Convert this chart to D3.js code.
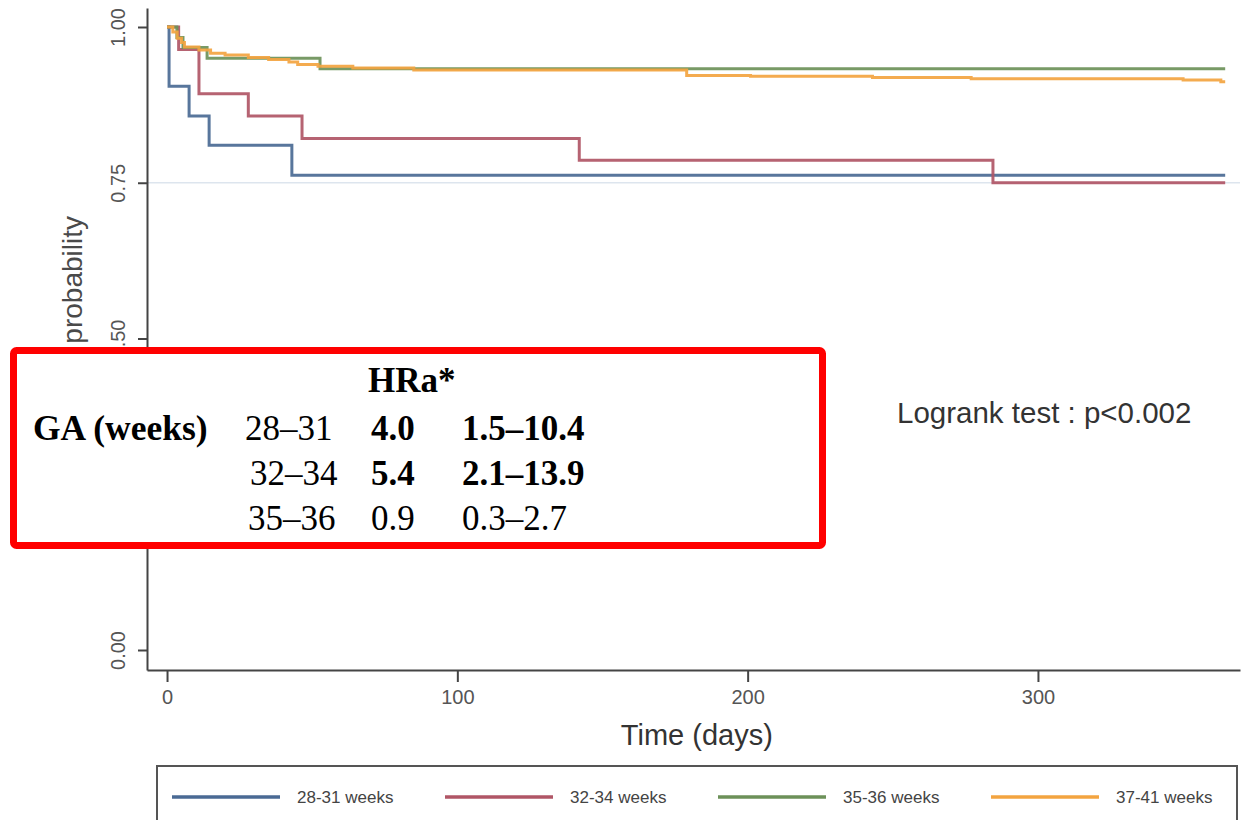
<!DOCTYPE html>
<html>
<head>
<meta charset="utf-8">
<script src="https://cdn.jsdelivr.net/npm/d3@7"></script>
<style>
  body { margin: 0; background: #fff; }
  svg { display: block; }
</style>
</head>
<body>
<svg id="chart" width="1243" height="820"></svg>
<script>
// Kaplan-Meier curves by gestational age group
const groups = ["28-31 weeks", "32-34 weeks", "35-36 weeks", "37-41 weeks"];
const colors = ["#4a6a94", "#b05666", "#6c9159", "#f3a440"];
const followUpEnd = 364.5;

const time_2831 = [0, 0.7, 7.6, 14.5, 43];
const surv_2831 = [1, 0.905, 0.857, 0.810, 0.762];

const time_3234 = [0, 4, 11, 28, 46.5, 142, 284.5];
const surv_3234 = [1, 0.964, 0.893, 0.857, 0.821, 0.786, 0.750];

const time_3536 = [0, 3.4, 5.5, 13.8, 52.7];
const surv_3536 = [1, 0.983, 0.967, 0.950, 0.933];

const time_3741 = [0, 2, 3.5, 5, 6, 11, 15, 20, 28, 35, 42, 45, 52, 64, 85, 179, 201, 243, 277, 350, 363];
const surv_3741 = [1, 0.992, 0.982, 0.975, 0.968, 0.963, 0.958, 0.955, 0.951, 0.948, 0.944, 0.940, 0.937, 0.934, 0.931, 0.922, 0.921, 0.919, 0.917, 0.915, 0.912];

const xTicks = [0, 100, 200, 300];
const yTicks = [0, 0.25, 0.5, 0.75, 1];
const yGrid = [0.75];

// adjusted hazard ratio table
const gaBands = ["28–31", "32–34", "35–36"];
const hrValues = ["4.0", "5.4", "0.9"];
const ciValues = ["1.5–10.4", "2.1–13.9", "0.3–2.7"];
const significant = [true, true, false];

const series = [
  [time_2831, surv_2831],
  [time_3234, surv_3234],
  [time_3536, surv_3536],
  [time_3741, surv_3741],
].map(([t, s], i) => {
  const pts = t.map((d, j) => [d, s[j]]);
  pts.push([followUpEnd, s[s.length - 1]]);
  return { name: groups[i], color: colors[i], pts };
});

const svg = d3.select("#chart");

const x = d3.scaleLinear().domain([-6.9, 369.6]).range([147, 1240]);
const y = d3.scaleLinear().domain([-0.0321, 1.0305]).range([670, 8]);

// grid
svg.append("g")
    .selectAll("line")
    .data(yGrid)
    .enter()
    .append("line")
    .attr("x1", x.range()[0])
    .attr("x2", x.range()[1])
    .attr("y1", d => y(d))
    .attr("y2", d => y(d))
    .attr("stroke", "#dde5ee")
    .attr("stroke-width", 1.5);

// axes
const xAxis = svg.append("g")
    .attr("transform", `translate(0, ${y.range()[0]})`)
    .call(d3.axisBottom(x).tickValues(xTicks).tickSize(12).tickSizeOuter(0).tickPadding(8).tickFormat(d3.format("d")));

const yAxis = svg.append("g")
    .attr("transform", `translate(${x.range()[0]}, 0)`)
    .call(d3.axisLeft(y).tickValues(yTicks).tickSize(9).tickSizeOuter(0).tickFormat(d3.format(".2f")));

[xAxis, yAxis].forEach(a => {
  a.select(".domain").attr("stroke", "#444").attr("stroke-width", 2);
  a.selectAll(".tick line").attr("stroke", "#444").attr("stroke-width", 2);
  a.selectAll("text")
    .attr("fill", "#555")
    .style("font-family", "'Liberation Sans Narrow', 'Arial Narrow', Arial, sans-serif")
    .style("font-size", "20px");
});

yAxis.selectAll(".tick text")
    .attr("x", null)
    .attr("dy", null)
    .attr("text-anchor", "middle")
    .attr("dominant-baseline", "central")
    .attr("transform", "translate(-29, 0) rotate(-90)");

// axis titles
svg.append("text")
    .attr("x", (x(0) + x(365)) / 2)
    .attr("y", 745)
    .attr("text-anchor", "middle")
    .attr("fill", "#333")
    .style("font-family", "Arial, 'Liberation Sans', sans-serif")
    .style("font-size", "29px")
    .text("Time (days)");

svg.append("text")
    .attr("transform", "translate(82, 216) rotate(-90)")
    .attr("text-anchor", "end")
    .attr("fill", "#4a4a4a")
    .style("font-family", "Arial, 'Liberation Sans', sans-serif")
    .style("font-size", "28px")
    .text("Survival probability");

// curves
const line = d3.line()
    .x(d => x(d[0]))
    .y(d => y(d[1]))
    .curve(d3.curveStepAfter);

svg.append("g")
    .selectAll("path")
    .data(series)
    .enter()
    .append("path")
    .attr("d", d => line(d.pts))
    .attr("fill", "none")
    .attr("stroke", d => d.color)
    .attr("stroke-width", 3)
    .attr("stroke-opacity", 0.92);

svg.append("text")
    .attr("x", 897)
    .attr("y", 423)
    .attr("fill", "#333")
    .style("font-family", "Arial, 'Liberation Sans', sans-serif")
    .style("font-size", "29.5px")
    .text("Logrank test : p<0.002");

// legend
const legend = svg.append("g");
legend.append("rect")
    .attr("x", 157)
    .attr("y", 766)
    .attr("width", 1080)
    .attr("height", 70)
    .attr("fill", "#fff")
    .attr("stroke", "#555")
    .attr("stroke-width", 2);

const lx = d3.scaleBand().domain(groups).range([172, 172 + 273 * groups.length]);

const item = legend.selectAll(".item")
    .data(series)
    .enter()
    .append("g")
    .attr("class", "item")
    .attr("transform", d => `translate(${lx(d.name)}, 797)`);

item.append("line")
    .attr("x1", 0)
    .attr("x2", 108)
    .attr("stroke", d => d.color)
    .attr("stroke-width", 3.5);

item.append("text")
    .attr("x", 125)
    .attr("dy", "0.35em")
    .attr("fill", "#444")
    .style("font-family", "Arial, 'Liberation Sans', sans-serif")
    .style("font-size", "17px")
    .text(d => d.name);

// HR annotation box
const box = svg.append("g");
box.append("rect")
    .attr("x", 13.5)
    .attr("y", 350.5)
    .attr("width", 809)
    .attr("height", 195)
    .attr("rx", 3)
    .attr("fill", "#fff")
    .attr("stroke", "#ff0000")
    .attr("stroke-width", 7);

const serif = "'Liberation Serif', 'Times New Roman', serif";

box.append("text")
    .attr("x", 368)
    .attr("y", 392)
    .attr("font-weight", "bold")
    .style("font-family", serif)
    .style("font-size", "35px")
    .text("HRa*");

box.append("text")
    .attr("x", 33)
    .attr("y", 440)
    .attr("font-weight", "bold")
    .style("font-family", serif)
    .style("font-size", "35.5px")
    .text("GA (weeks)");

const rowY = d3.scalePoint().domain(gaBands).range([440, 530]);

const row = box.selectAll(".row")
    .data(gaBands)
    .enter()
    .append("g")
    .attr("class", "row")
    .attr("transform", d => `translate(0, ${rowY(d)})`)
    .style("font-family", serif)
    .style("font-size", "35px");

row.append("text").attr("x", (d, i) => [245, 250, 248][i]).text(d => d);
row.append("text").attr("x", 371)
    .attr("font-weight", (d, i) => significant[i] ? "bold" : "normal")
    .text((d, i) => hrValues[i]);
row.append("text").attr("x", 462)
    .attr("font-weight", (d, i) => significant[i] ? "bold" : "normal")
    .text((d, i) => ciValues[i]);
</script>
</body>
</html>
